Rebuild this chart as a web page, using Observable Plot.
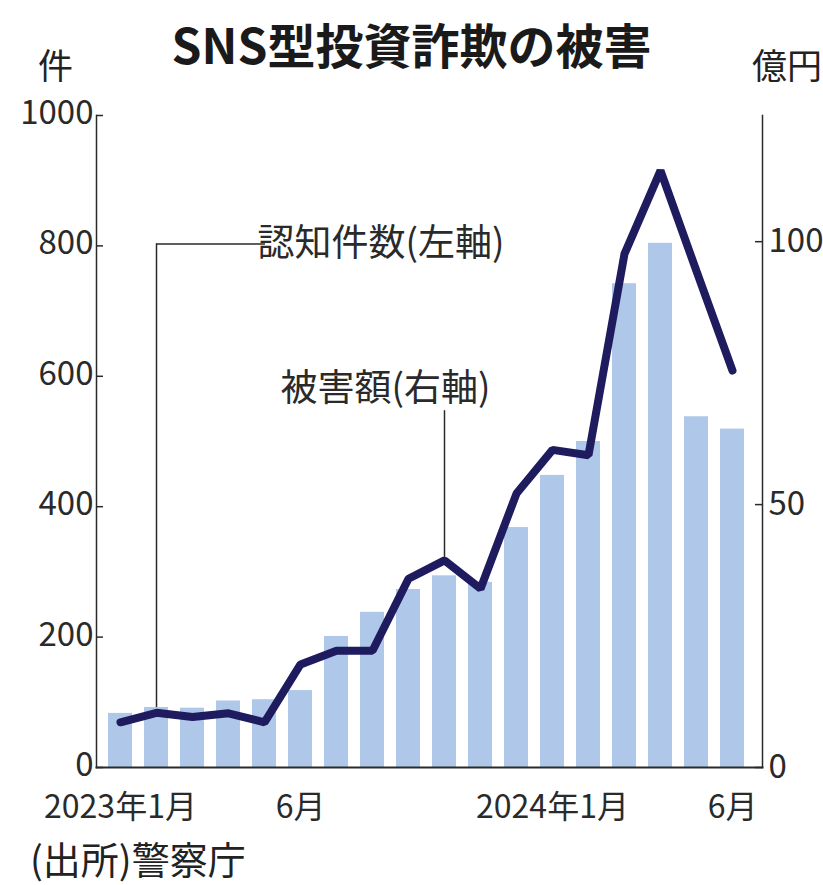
<!DOCTYPE html>
<html>
<head>
<meta charset="utf-8">
<script src="https://cdn.jsdelivr.net/npm/d3@7"></script>
<script src="https://cdn.jsdelivr.net/npm/@observablehq/plot@0.6"></script>
<style>
  body { margin: 0; background: #fff; }
  #wrap { position: relative; width: 823px; height: 885px; overflow: hidden; font-family: "Noto Sans CJK JP", "Noto Sans", sans-serif; color: #222; }
  .abs { position: absolute; line-height: 1; white-space: nowrap; }
</style>
</head>
<body>
<div id="wrap">
  <div class="abs" id="title" style="left:0;width:823px;top:19px;text-align:center;font-weight:bold;font-size:48px;color:#1a1a1a;"></div>
  <div class="abs" id="unitL" style="left:38px;top:46px;font-size:35px;"></div>
  <div class="abs" id="unitR" style="left:752px;top:46px;font-size:35px;"></div>
  <div class="abs" id="chart" style="left:0;top:100px;"></div>
  <div class="abs" id="caption" style="left:30px;top:839px;font-size:38px;"></div>
</div>
<script>
// ---- data ----
const months = ["2023-01","2023-02","2023-03","2023-04","2023-05","2023-06","2023-07","2023-08","2023-09","2023-10","2023-11","2023-12","2024-01","2024-02","2024-03","2024-04","2024-05","2024-06"];
const counts = [83, 92, 91, 102, 104, 118, 201, 238, 273, 294, 284, 368, 448, 500, 742, 804, 538, 519];
const damage = [8.6, 10.4, 9.6, 10.3, 8.6, 19.6, 22.2, 22.2, 35.9, 39.4, 34.0, 52.1, 60.4, 59.4, 97.7, 113.5, 94.4, 75.5];
const leftTicks = [0, 200, 400, 600, 800, 1000];
const rightTicks = [0, 50, 100];
const xTickMonths = ["2023-01", "2023-06", "2024-01", "2024-06"];
const xTickLabels = ["2023年1月", "6月", "2024年1月", "6月"];
const leftMax = 1000;
const rightMax = 124;
const titleText = "SNS型投資詐欺の被害";
const unitLeft = "件";
const unitRight = "億円";
const captionText = "(出所)警察庁";
const ann1Text = "認知件数(左軸)";
const ann1Month = "2023-02";
const ann1TextMonth = "2023-05";
const ann1Level = 803;      // left-axis units
const ann2Text = "被害額(右軸)";
const ann2Month = "2023-10";
const ann2TextLevel = 581;  // left-axis units
const ann2TopLevel = 535;   // left-axis units

// ---- build ----
document.getElementById("title").textContent = titleText;
document.getElementById("unitL").textContent = unitLeft;
document.getElementById("unitR").textContent = unitRight;
document.getElementById("caption").textContent = captionText;

const k = leftMax / rightMax;
const data = months.map((m, i) => ({month: m, count: counts[i], damage: damage[i], scaled: damage[i] * k}));
const labelOf = new Map(xTickMonths.map((m, i) => [m, xTickLabels[i]]));
const ann2Index = months.indexOf(ann2Month);
const ann1Index = months.indexOf(ann1Month);

const ann1Leader = [{x1: ann1Month, x2: ann1TextMonth, y: ann1Level}];
const ann1Label = [{x: ann1TextMonth, y: ann1Level, text: ann1Text}];
const ann2Label = [{x: ann2Month, y: ann2TextLevel, text: ann2Text}];

const barColor = "#afc8e9";
const lineColor = "#1e1b5e";
const inkColor = "#2a2a2a";
const frameW = 823 - 96 - 61;

const chart = Plot.plot({
  width: 823,
  height: 730,
  marginTop: 15,
  marginBottom: 63,
  marginLeft: 96,
  marginRight: 61,
  style: {fontFamily: "'Noto Sans CJK JP', 'Noto Sans', sans-serif", color: inkColor, background: "white", overflow: "visible"},
  x: {type: "band", domain: months, paddingInner: 0.33, paddingOuter: 0.365, align: 0.405},
  y: {domain: [0, leftMax]},
  marks: [
    Plot.barY(data, {x: "month", y: "count", fill: barColor}),
    // annotation leaders
    Plot.ruleX([data[ann1Index]], {x: "month", y1: "count", y2: ann1Level, stroke: inkColor, strokeWidth: 1.5}),
    Plot.ruleY(ann1Leader, {x1: "x1", x2: "x2", y: "y", stroke: inkColor, strokeWidth: 1.5, insetLeft: 12, insetRight: 11}),
    Plot.ruleX([data[ann2Index]], {x: "month", y1: "scaled", y2: ann2TopLevel, insetBottom: 8, stroke: inkColor, strokeWidth: 1.5}),
    Plot.line(data, {x: "month", y: "scaled", stroke: lineColor, strokeWidth: 8, strokeLinejoin: "miter", strokeLinecap: "round"}),
    Plot.text(ann1Label, {x: "x", y: "y", text: "text", textAnchor: "start", dx: -7, fontSize: 37, fill: inkColor}),
    Plot.text(ann2Label, {x: "x", y: "y", text: "text", textAnchor: "end", dx: 46, fontSize: 37, fill: inkColor}),
    // axes
    Plot.frame({anchor: "left", stroke: inkColor, strokeWidth: 1.5}),
    Plot.frame({anchor: "right", stroke: inkColor, strokeWidth: 1.5}),
    Plot.frame({anchor: "bottom", stroke: inkColor, strokeWidth: 2}),
    Plot.ruleY(leftTicks, {y: d => d, insetRight: frameW - 7, stroke: inkColor, strokeWidth: 1.5}),
    Plot.ruleY(rightTicks.map(v => v * k), {y: d => d, insetLeft: frameW - 7, stroke: inkColor, strokeWidth: 1.5}),
    Plot.axisY(leftTicks, {anchor: "left", tickSize: 0, tickPadding: 3, dy: -2, fontSize: 33, tickFormat: d => String(d), label: null}),
    Plot.axisY(rightTicks.map(v => v * k), {anchor: "right", tickSize: 0, tickPadding: 6, fontSize: 33, tickFormat: d => String(Math.round(d / k)), label: null}),
    Plot.axisX(xTickMonths, {anchor: "bottom", tickSize: 0, tickPadding: 28, fontSize: 32, tickFormat: d => labelOf.get(d), label: null})
  ]
});
document.getElementById("chart").appendChild(chart);
</script>
</body>
</html>
